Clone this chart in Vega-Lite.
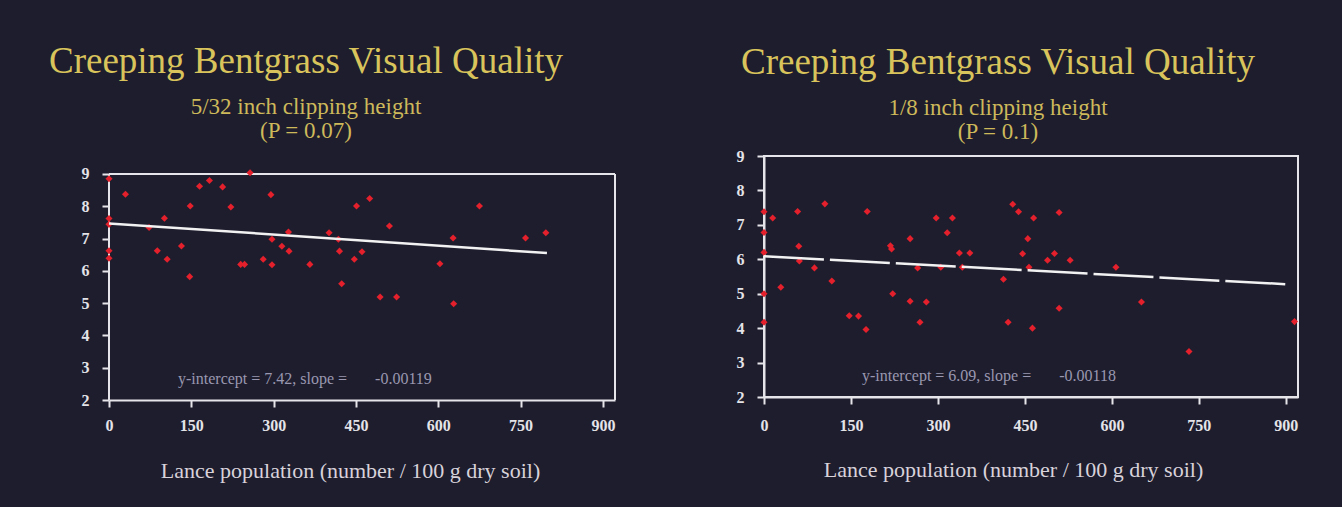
{
  "$schema": "https://vega.github.io/schema/vega-lite/v6.json",
  "background": "#1e1d2e",
  "padding": {"left": 48, "top": 43, "right": 44, "bottom": 26},
  "spacing": 119,
  "datasets": {
    "left": [
      {"x": 0, "y": 8.85}, {"x": 0, "y": 7.62}, {"x": 0, "y": 7.44}, {"x": 0, "y": 6.62}, {"x": 0, "y": 6.39},
      {"x": 30, "y": 8.37}, {"x": 73, "y": 7.34}, {"x": 88, "y": 6.62}, {"x": 101, "y": 7.63}, {"x": 106, "y": 6.36},
      {"x": 132, "y": 6.77}, {"x": 147, "y": 5.82}, {"x": 148, "y": 8.01}, {"x": 165, "y": 8.62}, {"x": 183, "y": 8.8},
      {"x": 207, "y": 8.6}, {"x": 222, "y": 7.98}, {"x": 240, "y": 6.2}, {"x": 247, "y": 6.2}, {"x": 257, "y": 9.04},
      {"x": 281, "y": 6.36}, {"x": 295, "y": 8.36}, {"x": 297, "y": 6.98}, {"x": 297, "y": 6.19}, {"x": 315, "y": 6.76},
      {"x": 327, "y": 7.2}, {"x": 328, "y": 6.61}, {"x": 366, "y": 6.2}, {"x": 401, "y": 7.18}, {"x": 418, "y": 6.98},
      {"x": 420, "y": 6.61}, {"x": 424, "y": 5.6}, {"x": 447, "y": 6.36}, {"x": 451, "y": 8.01}, {"x": 461, "y": 6.59},
      {"x": 475, "y": 8.24}, {"x": 494, "y": 5.19}, {"x": 511, "y": 7.39}, {"x": 524, "y": 5.19}, {"x": 603, "y": 6.22},
      {"x": 627, "y": 7.02}, {"x": 628, "y": 4.98}, {"x": 675, "y": 8.01}, {"x": 759, "y": 7.02}, {"x": 796, "y": 7.18}
    ],
    "leftTrend": [{"x": 0, "y": 7.47}, {"x": 798, "y": 6.55}],
    "frame": [{"x": 0, "x2": 922, "y": 9, "y2": 9}, {"x": 922, "x2": 922, "y": 2, "y2": 9}, {"x": 0, "x2": 0, "y": 2, "y2": 9}],
    "right": [
      {"x": 0, "y": 7.38}, {"x": 0, "y": 6.78}, {"x": 0, "y": 6.2}, {"x": 0, "y": 5.0}, {"x": 0, "y": 4.17},
      {"x": 15, "y": 7.2}, {"x": 29, "y": 5.19}, {"x": 58, "y": 7.39}, {"x": 60, "y": 6.38}, {"x": 61, "y": 5.95},
      {"x": 87, "y": 5.75}, {"x": 105, "y": 7.61}, {"x": 117, "y": 5.37}, {"x": 147, "y": 4.36}, {"x": 163, "y": 4.35},
      {"x": 176, "y": 3.96}, {"x": 178, "y": 7.39}, {"x": 218, "y": 6.39}, {"x": 220, "y": 6.3}, {"x": 222, "y": 5.0},
      {"x": 252, "y": 6.6}, {"x": 252, "y": 4.78}, {"x": 265, "y": 5.75}, {"x": 269, "y": 4.17}, {"x": 280, "y": 4.76},
      {"x": 297, "y": 7.2}, {"x": 305, "y": 5.77}, {"x": 316, "y": 6.77}, {"x": 325, "y": 7.2}, {"x": 337, "y": 6.18},
      {"x": 355, "y": 6.18}, {"x": 342, "y": 5.77}, {"x": 413, "y": 5.42}, {"x": 421, "y": 4.17}, {"x": 429, "y": 7.6},
      {"x": 439, "y": 7.38}, {"x": 446, "y": 6.16}, {"x": 455, "y": 6.6}, {"x": 457, "y": 5.77}, {"x": 463, "y": 4.0},
      {"x": 465, "y": 7.2}, {"x": 489, "y": 5.97}, {"x": 501, "y": 6.17}, {"x": 509, "y": 7.36}, {"x": 509, "y": 4.58},
      {"x": 528, "y": 5.97}, {"x": 607, "y": 5.77}, {"x": 651, "y": 4.76}, {"x": 733, "y": 3.32}, {"x": 915, "y": 4.19}
    ],
    "rightTrend": [{"x": 0, "y": 6.09}, {"x": 907, "y": 5.27}]
  },
  "config": {
    "view": {"stroke": "#e6e6ea", "strokeWidth": 2},
    "axis": {
      "grid": false,
      "domainColor": "#e6e6ea",
      "domainWidth": 2,
      "tickColor": "#e6e6ea",
      "tickWidth": 2,
      "tickSize": 7,
      "labelFont": "Liberation Serif",
      "labelFontWeight": "bold",
      "labelFontSize": 16,
      "labelColor": "#e4e4e8",
      "labelFlush": false,
      "labelOverlap": false,
      "titleFont": "Liberation Serif",
      "titleFontWeight": "normal",
      "titleFontSize": 22,
      "titleColor": "#d8d2da"
    },
    "title": {
      "font": "Liberation Serif",
      "fontSize": 37,
      "fontWeight": "normal",
      "color": "#d9c45c",
      "subtitleFont": "Liberation Serif",
      "subtitleFontSize": 23,
      "subtitleColor": "#cdb95a",
      "subtitleLineHeight": 24,
      "subtitlePadding": 15,
      "anchor": "middle"
    }
  },
  "hconcat": [
    {
      "width": 506,
      "height": 244,
      "view": {"stroke": null},
      "title": {"text": "Creeping Bentgrass Visual Quality", "subtitle": ["5/32 inch clipping height", "(P = 0.07)"], "dx": -56, "offset": 12},
      "encoding": {
        "x": {"type": "quantitative", "scale": {"domain": [0, 922], "nice": false},
              "axis": {"values": [0, 150, 300, 450, 600, 750, 900], "title": "Lance population (number / 100 g dry soil)", "titleX": 241, "titlePadding": 27, "labelPadding": 10}},
        "y": {"type": "quantitative", "scale": {"domain": [2, 9.557], "nice": false},
              "axis": {"values": [2, 3, 4, 5, 6, 7, 8, 9], "title": null, "labelPadding": 13, "domain": false}}
      },
      "layer": [
        {
          "data": {"name": "frame"},
          "mark": {"type": "rule", "color": "#e6e6ea", "strokeWidth": 2},
          "encoding": {"x": {"field": "x"}, "x2": {"field": "x2"}, "y": {"field": "y"}, "y2": {"field": "y2"}}
        },
        {
          "data": {"name": "left"},
          "mark": {"type": "point", "shape": "diamond", "filled": true, "size": 50, "color": "#e3202b", "opacity": 1},
          "encoding": {"x": {"field": "x"}, "y": {"field": "y"}}
        },
        {
          "data": {"name": "leftTrend"},
          "mark": {"type": "line", "color": "#f2f2f2", "strokeWidth": 2.5},
          "encoding": {"x": {"field": "x"}, "y": {"field": "y"}}
        },
        {
          "data": {"values": [{"label": "y-intercept = 7.42, slope =\u00a0\u00a0\u00a0\u00a0\u00a0\u00a0\u00a0-0.00119"}]},
          "mark": {"type": "text", "font": "Liberation Serif", "fontSize": 16, "color": "#9a98b0", "baseline": "middle"},
          "encoding": {"x": {"datum": 357}, "y": {"datum": 2.65}, "text": {"field": "label"}}
        }
      ]
    },
    {
      "width": 534,
      "height": 241,
      "title": {"text": "Creeping Bentgrass Visual Quality", "subtitle": ["1/8 inch clipping height", "(P = 0.1)"], "dx": -33, "offset": 3},
      "encoding": {
        "x": {"type": "quantitative", "scale": {"domain": [0, 921], "nice": false},
              "axis": {"values": [0, 150, 300, 450, 600, 750, 900], "title": "Lance population (number / 100 g dry soil)", "titleX": 249, "titlePadding": 26, "labelPadding": 13}},
        "y": {"type": "quantitative", "scale": {"domain": [2, 9], "nice": false},
              "axis": {"values": [2, 3, 4, 5, 6, 7, 8, 9], "title": null, "labelPadding": 13}}
      },
      "layer": [
        {
          "data": {"name": "right"},
          "mark": {"type": "point", "shape": "diamond", "filled": true, "size": 50, "color": "#e3202b", "opacity": 1},
          "encoding": {"x": {"field": "x"}, "y": {"field": "y"}}
        },
        {
          "data": {"name": "rightTrend"},
          "mark": {"type": "line", "color": "#f2f2f2", "strokeWidth": 2.5, "strokeDash": [60, 6]},
          "encoding": {"x": {"field": "x"}, "y": {"field": "y"}}
        },
        {
          "data": {"values": [{"label": "y-intercept = 6.09, slope =\u00a0\u00a0\u00a0\u00a0\u00a0\u00a0\u00a0-0.00118"}]},
          "mark": {"type": "text", "font": "Liberation Serif", "fontSize": 16, "color": "#9a98b0", "baseline": "middle"},
          "encoding": {"x": {"datum": 388}, "y": {"datum": 2.62}, "text": {"field": "label"}}
        }
      ]
    }
  ]
}
